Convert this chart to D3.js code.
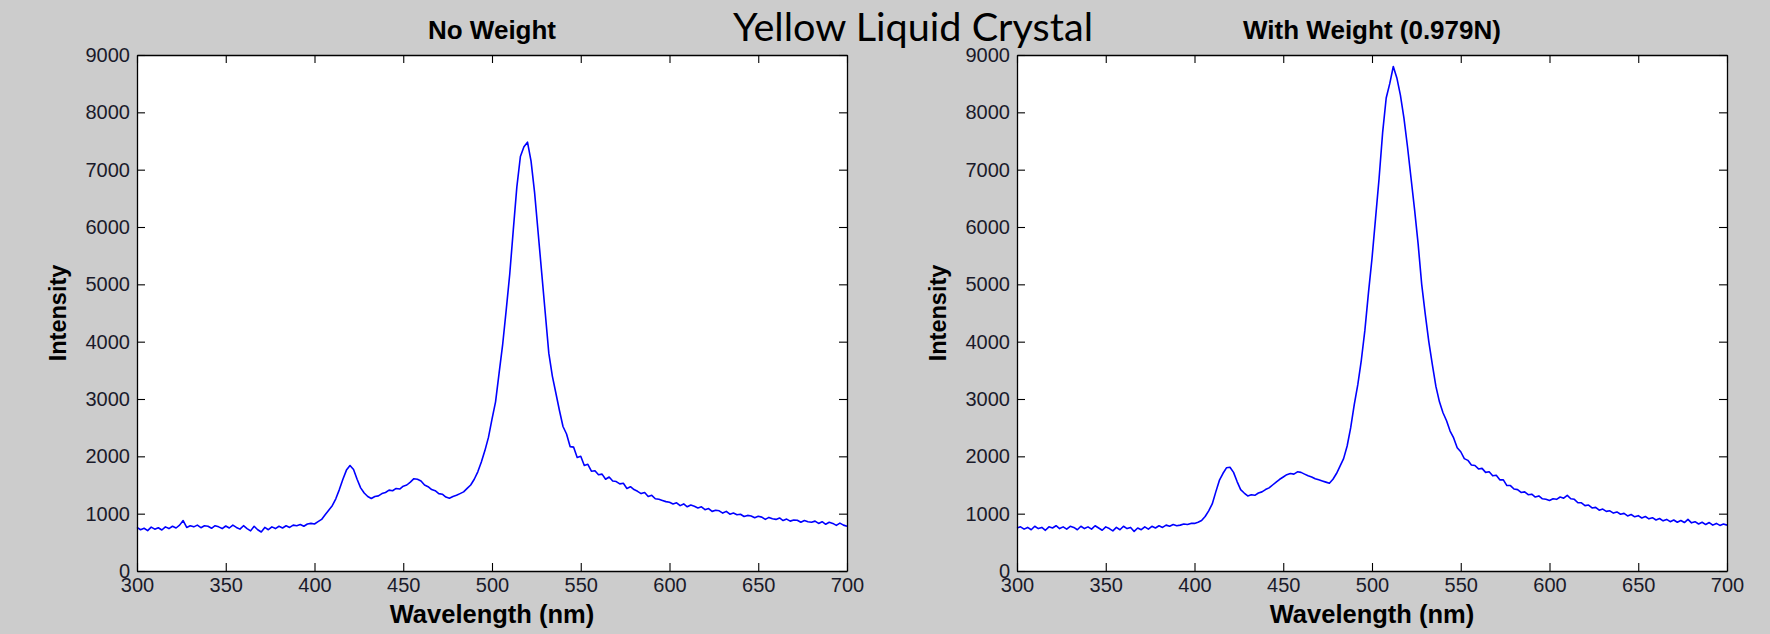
<!DOCTYPE html>
<html>
<head>
<meta charset="utf-8">
<script src="https://cdn.jsdelivr.net/npm/d3@7"></script>
<style>
  html, body { margin: 0; padding: 0; background: #ffffff; }
  svg { display: block; }
</style>
</head>
<body>
<script>
// ---------------- DATA ----------------
const figureTitle = "Yellow Liquid Crystal";
const panelTitles = ["No Weight", "With Weight (0.979N)"];
const xLabel = "Wavelength (nm)";
const yLabel = "Intensity";
const xTicks = [300, 350, 400, 450, 500, 550, 600, 650, 700];
const yTicks = [0, 1000, 2000, 3000, 4000, 5000, 6000, 7000, 8000, 9000];
const xDomain = [300, 700];
const yDomain = [0, 9000];

const wavelength = [
  300,302,304,306,308,310,312,314,316,318,320,322,324,326,328,330,332,334,336,338,
  340,342,344,346,348,350,352,354,356,358,360,362,364,366,368,370,372,374,376,378,
  380,382,384,386,388,390,392,394,396,398,400,402,404,406,408,410,412,414,416,418,
  420,422,424,426,428,430,432,434,436,438,440,442,444,446,448,450,452,454,456,458,
  460,462,464,466,468,470,472,474,476,478,480,482,484,486,488,490,492,494,496,498,
  500,502,504,506,508,510,512,514,516,518,520,522,524,526,528,530,532,534,536,538,
  540,542,544,546,548,550,552,554,556,558,560,562,564,566,568,570,572,574,576,578,
  580,582,584,586,588,590,592,594,596,598,600,602,604,606,608,610,612,614,616,618,
  620,622,624,626,628,630,632,634,636,638,640,642,644,646,648,650,652,654,656,658,
  660,662,664,666,668,670,672,674,676,678,680,682,684,686,688,690,692,694,696,698,
  700
];

const noWeight = [
  760,720,745,705,765,730,755,715,770,740,
  780,750,800,880,760,790,770,800,755,790,
  780,745,790,770,740,785,750,800,760,730,
  790,740,700,780,720,680,760,720,770,740,
  780,750,790,760,800,790,810,780,820,830,
  820,860,900,980,1060,1140,1260,1420,1600,1760,
  1840,1770,1600,1450,1360,1300,1265,1300,1310,1350,
  1370,1410,1400,1440,1430,1480,1500,1550,1610,1600,
  1570,1500,1470,1420,1400,1350,1340,1290,1270,1300,
  1320,1350,1380,1440,1500,1600,1730,1900,2100,2330,
  2650,2950,3450,3950,4550,5180,5950,6700,7230,7400,
  7480,7150,6600,5900,5200,4500,3800,3400,3100,2800,
  2520,2390,2170,2160,1980,2000,1840,1860,1740,1750,
  1680,1690,1600,1640,1570,1560,1520,1530,1440,1470,
  1420,1390,1350,1370,1300,1320,1260,1250,1230,1210,
  1200,1170,1190,1140,1170,1120,1150,1130,1100,1120,
  1070,1090,1040,1060,1050,1010,1040,990,1010,980,
  990,950,970,960,930,955,940,900,935,910,
  900,925,880,905,870,890,885,850,880,860,
  850,870,830,860,815,850,830,795,835,800,
  780
];

const withWeight = [
  750,770,730,760,720,780,740,760,710,770,
  750,790,740,770,730,780,760,720,780,740,
  770,730,790,750,710,770,740,700,760,720,
  780,740,760,690,750,720,770,730,780,750,
  790,760,800,780,810,790,800,820,810,830,
  830,850,880,950,1050,1170,1380,1580,1700,1800,
  1810,1720,1560,1420,1360,1310,1330,1320,1360,1380,
  1420,1450,1500,1550,1600,1640,1680,1700,1690,1730,
  1720,1690,1660,1640,1610,1590,1570,1550,1530,1600,
  1700,1830,1960,2180,2500,2900,3250,3680,4200,4850,
  5450,6150,6850,7650,8250,8500,8800,8600,8300,7900,
  7400,6850,6300,5700,5000,4480,4000,3600,3220,2950,
  2760,2620,2440,2320,2150,2080,1960,1930,1850,1840,
  1780,1790,1720,1730,1660,1670,1590,1590,1490,1490,
  1430,1420,1370,1380,1330,1340,1290,1310,1260,1250,
  1230,1260,1250,1290,1270,1320,1260,1250,1190,1190,
  1140,1150,1100,1110,1060,1080,1040,1050,1010,1030,
  990,1005,960,985,945,965,925,950,910,930,
  890,915,875,900,860,890,850,880,845,900,
  840,860,820,850,810,845,800,830,795,820,
  800
];

// ---------------- DRAW ----------------
const W = 1770, H = 634;
const svg = d3.select("body").append("svg").attr("width", W).attr("height", H);

svg.append("rect").attr("x", 0).attr("y", 0).attr("width", W).attr("height", H).attr("fill", "#cccccc");

svg.append("text")
  .attr("x", 913).attr("y", 41)
  .attr("text-anchor", "middle")
  .attr("font-family", "Lato, 'Open Sans', sans-serif")
  .attr("font-size", 38)
  .attr("textLength", 360).attr("lengthAdjust", "spacingAndGlyphs")
  .attr("fill", "#000")
  .text(figureTitle);

const panels = [
  { left: 137, right: 847, title: panelTitles[0], data: noWeight },
  { left: 1017, right: 1727, title: panelTitles[1], data: withWeight }
];
const plotTop = 55, plotBottom = 571;
const tickFont = "'Liberation Sans', Arial, sans-serif";

panels.forEach(p => {
  const x = d3.scaleLinear().domain(xDomain).range([p.left, p.right]);
  const y = d3.scaleLinear().domain(yDomain).range([plotBottom, plotTop]);
  const g = svg.append("g");

  g.append("rect")
    .attr("x", p.left).attr("y", plotTop)
    .attr("width", p.right - p.left).attr("height", plotBottom - plotTop)
    .attr("fill", "#ffffff");

  const line = d3.line().x((d, i) => x(wavelength[i])).y(d => y(d));
  g.append("path").datum(p.data)
    .attr("d", line)
    .attr("fill", "none")
    .attr("stroke", "#0000ff")
    .attr("stroke-width", 1.6)
    .attr("stroke-linejoin", "round");

  const tl = 8;
  const fmt = d3.format("d");
  const axB = d3.axisBottom(x).tickValues(xTicks).tickFormat(fmt).tickSizeInner(-tl).tickSizeOuter(0).tickPadding(7);
  const axT = d3.axisTop(x).tickValues(xTicks).tickSizeInner(-tl).tickSizeOuter(0);
  const axL = d3.axisLeft(y).tickValues(yTicks).tickFormat(fmt).tickSizeInner(-tl).tickSizeOuter(0).tickPadding(7);
  const axR = d3.axisRight(y).tickValues(yTicks).tickSizeInner(-tl).tickSizeOuter(0);

  const gb = g.append("g").attr("transform", `translate(0,${plotBottom})`).call(axB);
  const gt = g.append("g").attr("transform", `translate(0,${plotTop})`).call(axT);
  const gl = g.append("g").attr("transform", `translate(${p.left},0)`).call(axL);
  const gr = g.append("g").attr("transform", `translate(${p.right},0)`).call(axR);
  gt.selectAll(".tick text").remove();
  gr.selectAll(".tick text").remove();

  [gb, gt, gl, gr].forEach(a => {
    a.select(".domain").attr("stroke", "#000").attr("stroke-width", 1.3);
    a.selectAll(".tick line").attr("stroke", "#000").attr("stroke-width", 1.1);
    a.selectAll("text").attr("font-family", tickFont).attr("font-size", 20).attr("fill", "#1a1a2a");
  });

  g.append("text")
    .attr("x", (p.left + p.right) / 2).attr("y", 39)
    .attr("text-anchor", "middle")
    .attr("font-family", tickFont).attr("font-weight", "bold")
    .attr("font-size", 26)
    .attr("fill", "#000")
    .text(p.title);

  g.append("text")
    .attr("x", (p.left + p.right) / 2).attr("y", 623)
    .attr("text-anchor", "middle")
    .attr("font-family", tickFont).attr("font-weight", "bold")
    .attr("font-size", 25.5)
    .attr("fill", "#000")
    .text(xLabel);

  g.append("text")
    .attr("transform", `translate(${p.left - 71},${(plotTop + plotBottom) / 2}) rotate(-90)`)
    .attr("text-anchor", "middle")
    .attr("font-family", tickFont).attr("font-weight", "bold")
    .attr("font-size", 23.5)
    .attr("fill", "#000")
    .text(yLabel);
});
</script>
</body>
</html>
